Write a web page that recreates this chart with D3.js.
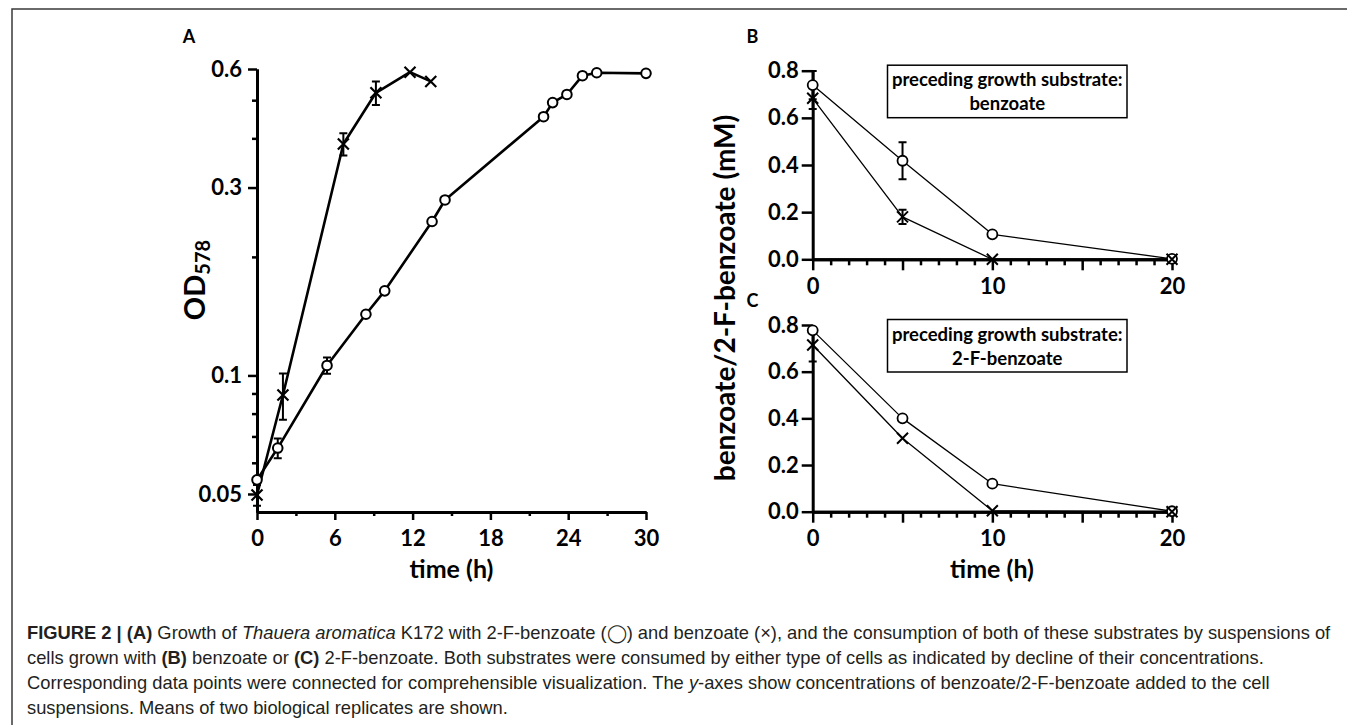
<!DOCTYPE html>
<html>
<head>
<meta charset="utf-8">
<script src="https://cdn.jsdelivr.net/npm/d3@7"></script>
<style>
  body { margin: 0; background: #fff; }
  svg text { font-family: Lato, "Open Sans", sans-serif; font-weight: 700; fill: #000; }
  svg .caption text { font-family: "Liberation Sans", Arial, sans-serif; font-weight: 400; fill: #231f20; }
</style>
</head>
<body>
<svg id="fig" width="1347" height="725"></svg>
<script>
// ---- panel A: growth (OD578, log scale) ----
const timeA_fb = [0, 1.6, 5.4, 8.4, 9.85, 13.5, 14.5, 22.1, 22.8, 23.9, 25.1, 26.2, 30];
const odA_fb   = [0.0543, 0.0654, 0.106, 0.143, 0.164, 0.246, 0.279, 0.454, 0.493, 0.517, 0.577, 0.587, 0.585];
const errA_fb  = [0, 0.0038, 0.005, 0, 0, 0, 0, 0, 0, 0, 0, 0, 0];

const timeA_bz = [0, 2, 6.66, 9.17, 11.8, 13.4];
const odA_bz   = [0.0497, 0.0892, 0.387, 0.522, 0.589, 0.558];
const errA_bz  = [0.003, 0.012, 0.025, 0.036, 0, 0];

const odTicksA = [0.05, 0.1, 0.3, 0.6];
const odTickLabelsA = ['0.05', '0.1', '0.3', '0.6'];
const odMinorA = [0.06, 0.07, 0.08, 0.09, 0.2, 0.4, 0.5];
const timeTicksA = [0, 6, 12, 18, 24, 30];
const timeMinorA = [3, 9, 15, 21, 27];

// ---- panels B and C: substrate consumption ----
const timeBC = [0, 5, 10, 20];
const concB_fb = [0.739, 0.418, 0.106, 0.002];
const errB_fb  = [0.06, 0.078, 0, 0];
const concB_bz = [0.683, 0.18, 0.0, 0.0];
const errB_bz  = [0.045, 0.03, 0, 0];

const concC_fb = [0.777, 0.40, 0.12, 0.002];
const errC_fb  = [0, 0, 0, 0];
const concC_bz = [0.714, 0.315, 0.004, 0.0];
const errC_bz  = [0.07, 0, 0, 0];

const concTicks = [0, 0.2, 0.4, 0.6, 0.8];
const timeTicksBC = [0, 5, 10, 15, 20];
const timeLabelsBC = [0, 10, 20];
const timeMinorBC = d3.range(0, 21).filter(d => d % 5 !== 0);

const svg = d3.select('#fig');

svg.append('rect').attr('width', 1347).attr('height', 725).attr('fill', '#fff');

// frame round the figure
svg.append('path')
  .attr('d', 'M12,725V9H1347')
  .attr('fill', 'none')
  .attr('stroke', '#3a3a3a')
  .attr('stroke-width', 1.5);

const TICK_FS = 22;

function styleAxis(g, fs) {
  g.attr('font-family', null).attr('font-size', null);
  g.select('.domain').attr('stroke-width', 3).attr('stroke', '#000');
  g.selectAll('.tick line').attr('stroke-width', 2.5).attr('stroke', '#000');
  g.selectAll('.tick text').attr('font-size', fs).attr('fill', '#000');
}

function crossPath(s) {
  return `M${-s},${-s}L${s},${s}M${-s},${s}L${s},${-s}`;
}

function drawErrors(g, xs, ys, errs, x, y, sw) {
  xs.forEach((t, i) => {
    if (!errs[i]) return;
    const cx = x(t), y1 = y(ys[i] + errs[i]), y2 = y(ys[i] - errs[i]);
    g.append('path')
      .attr('d', `M${cx},${y1}V${y2}M${cx - 4},${y1}H${cx + 4}M${cx - 4},${y2}H${cx + 4}`)
      .attr('fill', 'none').attr('stroke', '#000').attr('stroke-width', sw);
  });
}

function drawSeries(g, xs, ys, x, y, lw) {
  const line = d3.line().x((d, i) => x(xs[i])).y(d => y(d));
  g.append('path').datum(ys).attr('d', line)
    .attr('fill', 'none').attr('stroke', '#000').attr('stroke-width', lw)
    .attr('stroke-linejoin', 'round');
}

function drawCircles(g, xs, ys, x, y, r, sw) {
  g.selectAll(null).data(ys).enter().append('circle')
    .attr('cx', (d, i) => x(xs[i])).attr('cy', d => y(d)).attr('r', r)
    .attr('fill', '#fff').attr('stroke', '#000').attr('stroke-width', sw);
}

function drawCrosses(g, xs, ys, x, y, s, sw) {
  g.selectAll(null).data(ys).enter().append('path')
    .attr('transform', (d, i) => `translate(${x(xs[i])},${y(d)})`)
    .attr('d', crossPath(s))
    .attr('fill', 'none').attr('stroke', '#000').attr('stroke-width', sw);
}

// ================= Panel A =================
const xA = d3.scaleLinear().domain([0, 30]).range([257, 646]);
const yA = d3.scaleLog().domain([0.045, 0.6]).range([512, 69]);
const gA = svg.append('g');

gA.append('g').attr('transform', `translate(${xA(0)},0)`)
  .call(d3.axisLeft(yA).tickValues(odMinorA).tickSize(5).tickSizeOuter(0).tickFormat(''))
  .call(g => styleAxis(g, TICK_FS));
gA.append('g').attr('transform', `translate(${xA(0)},0)`)
  .call(d3.axisLeft(yA).tickValues(odTicksA).tickSize(9).tickSizeOuter(0).tickPadding(6)
    .tickFormat((d, i) => odTickLabelsA[i]))
  .call(g => styleAxis(g, TICK_FS));

gA.append('g').attr('transform', `translate(0,${yA.range()[0]})`)
  .call(d3.axisBottom(xA).tickValues(timeMinorA).tickSize(4).tickSizeOuter(0).tickFormat(''))
  .call(g => styleAxis(g, TICK_FS));
gA.append('g').attr('transform', `translate(0,${yA.range()[0]})`)
  .call(d3.axisBottom(xA).tickValues(timeTicksA).tickSize(8).tickSizeOuter(0).tickPadding(10))
  .call(g => styleAxis(g, TICK_FS));

drawSeries(gA, timeA_fb, odA_fb, xA, yA, 2.6);
drawSeries(gA, timeA_bz, odA_bz, xA, yA, 2.6);
drawErrors(gA, timeA_fb, odA_fb, errA_fb, xA, yA, 2);
drawErrors(gA, timeA_bz, odA_bz, errA_bz, xA, yA, 2);
drawCircles(gA, timeA_fb, odA_fb, xA, yA, 4.8, 2);
drawCrosses(gA, timeA_bz, odA_bz, xA, yA, 5.5, 2.2);

gA.append('text').attr('x', 451.5).attr('y', 578).attr('text-anchor', 'middle')
  .attr('font-size', 25).text('time (h)');

const odTitle = gA.append('text')
  .attr('transform', 'translate(205,280) rotate(-90)')
  .attr('text-anchor', 'middle').attr('font-size', 29);
odTitle.append('tspan').text('OD');
odTitle.append('tspan').attr('font-size', 20).attr('dy', 5).text('578');

gA.append('text').attr('x', 189).attr('y', 43).attr('text-anchor', 'middle')
  .attr('font-size', 18).text('A');

// ================= Panels B and C =================
function concPanel(top, bottom, fb, efb, bz, ebz, letter, letterY, legendLine) {
  const x = d3.scaleLinear().domain([0, 20]).range([812.7, 1172]);
  const y = d3.scaleLinear().domain([0, 0.8]).range([bottom, top]);
  const g = svg.append('g');

  g.append('g').attr('transform', `translate(${x(0)},0)`)
    .call(d3.axisLeft(y).tickValues(concTicks).tickSize(11).tickSizeOuter(0).tickPadding(3)
      .tickFormat(d3.format('.1f')))
    .call(a => styleAxis(a, TICK_FS));

  g.append('g').attr('transform', `translate(0,${bottom})`)
    .call(d3.axisBottom(x).tickValues(timeMinorBC).tickSize(6).tickSizeOuter(0).tickFormat(''))
    .call(a => styleAxis(a, TICK_FS));
  g.append('g').attr('transform', `translate(0,${bottom})`)
    .call(d3.axisBottom(x).tickValues(timeTicksBC).tickSize(11).tickSizeOuter(0).tickPadding(8)
      .tickFormat(d => timeLabelsBC.includes(d) ? d : ''))
    .call(a => styleAxis(a, TICK_FS));

  drawSeries(g, timeBC, fb, x, y, 1.3);
  drawSeries(g, timeBC, bz, x, y, 1.3);
  drawErrors(g, timeBC, fb, efb, x, y, 2);
  drawErrors(g, timeBC, bz, ebz, x, y, 2);
  drawCircles(g, timeBC, fb, x, y, 5, 1.8);
  drawCrosses(g, timeBC, bz, x, y, 5.5, 2);

  // legend box
  const bx = 887.5, bw = 239.5, by = top - 5.5, bh = 52.5;
  g.append('rect').attr('x', bx).attr('y', by).attr('width', bw).attr('height', bh)
    .attr('fill', '#fff').attr('stroke', '#000').attr('stroke-width', 1.5);
  g.append('text').attr('x', bx + bw / 2).attr('y', by + 21).attr('text-anchor', 'middle')
    .attr('font-size', 18.5).text('preceding growth substrate:');
  g.append('text').attr('x', bx + bw / 2).attr('y', by + 45).attr('text-anchor', 'middle')
    .attr('font-size', 18.5).text(legendLine);

  g.append('text').attr('x', 752.5).attr('y', letterY).attr('text-anchor', 'middle')
    .attr('font-size', 18).text(letter);
  return x;
}

concPanel(70.7, 259.3, concB_fb, errB_fb, concB_bz, errB_bz, 'B', 43, 'benzoate');
concPanel(325, 511.7, concC_fb, errC_fb, concC_bz, errC_bz, 'C', 307, '2-F-benzoate');

svg.append('text').attr('x', 992).attr('y', 578).attr('text-anchor', 'middle')
  .attr('font-size', 25).text('time (h)');

svg.append('text')
  .attr('transform', 'translate(735,298) rotate(-90)')
  .attr('text-anchor', 'middle').attr('font-size', 28)
  .text('benzoate/2-F-benzoate (mM)');

// ================= Caption =================
const captionLines = [
  [['FIGURE 2 | (A)', 'b'], [' Growth of ', ''], ['Thauera aromatica', 'i'],
   [' K172 with 2-F-benzoate (\u25EF) and benzoate (\u00D7), and the consumption of both of these substrates by suspensions of', '']],
  [['cells grown with ', ''], ['(B)', 'b'], [' benzoate or ', ''], ['(C)', 'b'],
   [' 2-F-benzoate. Both substrates were consumed by either type of cells as indicated by decline of their concentrations.', '']],
  [['Corresponding data points were connected for comprehensible visualization. The ', ''], ['y', 'i'],
   ['-axes show concentrations of benzoate/2-F-benzoate added to the cell', '']],
  [['suspensions. Means of two biological replicates are shown.', '']]
];
const captionY = [639, 664, 689, 714];

const cap = svg.append('g').attr('class', 'caption');
const capTexts = captionLines.map((parts, li) => {
  const t = cap.append('text').attr('x', 27).attr('y', captionY[li]).attr('font-size', 16.8);
  parts.forEach(([s, st]) => {
    const sp = t.append('tspan').text(s);
    if (st === 'b') sp.attr('font-weight', 700);
    if (st === 'i') sp.attr('font-style', 'italic');
  });
  return t;
});
// first caption line runs to about x = 1330 in the figure
const firstLen = capTexts[0].node().getComputedTextLength();
const capSize = 16.8 * 1303 / firstLen;
capTexts.forEach(t => t.attr('font-size', capSize));
</script>
</body>
</html>
